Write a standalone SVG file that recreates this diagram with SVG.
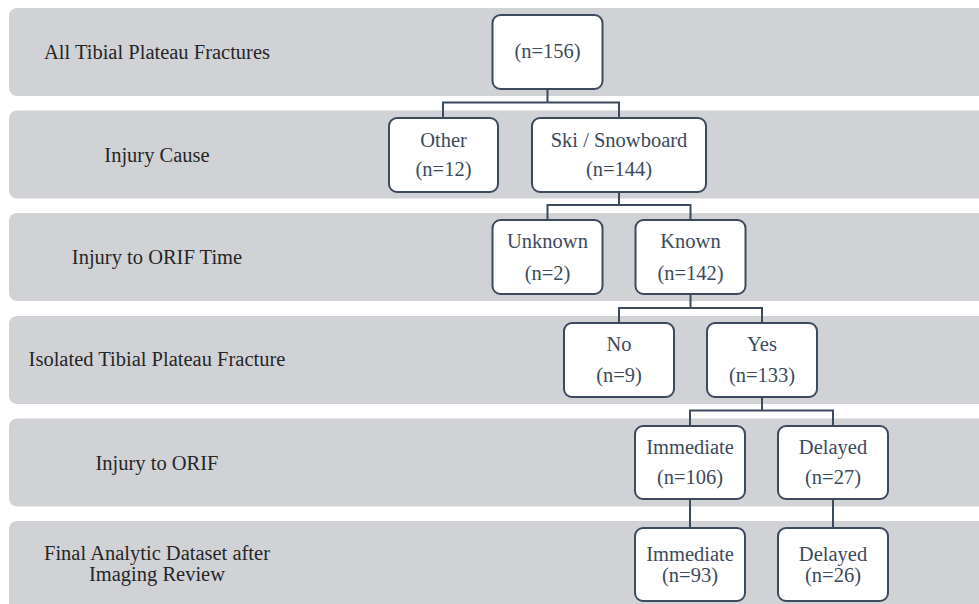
<svg xmlns="http://www.w3.org/2000/svg" width="979" height="604" viewBox="0 0 979 604">
<style>
.band{fill:#d1d2d6}
.box{fill:#ffffff;stroke:#3b4a5d;stroke-width:2}
.lbl{font-family:'Liberation Serif','Times New Roman',Times,'DejaVu Serif',serif;font-size:20.5px;fill:#262626;text-anchor:middle}
.nt{font-family:'Liberation Serif','Times New Roman',Times,'DejaVu Serif',serif;font-size:20.5px;fill:#3b4a5d;text-anchor:middle}
.con{fill:none;stroke:#3b4a5d;stroke-width:2}
</style>
<rect width="979" height="604" fill="#ffffff"/>
<g id="bands">
<rect class="band" x="9" y="8" width="990" height="88" rx="8"/>
<rect class="band" x="9" y="110.5" width="990" height="88" rx="8"/>
<rect class="band" x="9" y="213" width="990" height="88" rx="8"/>
<rect class="band" x="9" y="316" width="990" height="88" rx="8"/>
<rect class="band" x="9" y="418.5" width="990" height="88" rx="8"/>
<rect class="band" x="9" y="521" width="990" height="100" rx="8"/>
</g>
<g id="stage-labels">
<text class="lbl" x="157" y="59">All Tibial Plateau Fractures</text>
<text class="lbl" x="157" y="162">Injury Cause</text>
<text class="lbl" x="157" y="264">Injury to ORIF Time</text>
<text class="lbl" x="157" y="366">Isolated Tibial Plateau Fracture</text>
<text class="lbl" x="157" y="470">Injury to ORIF</text>
<text class="lbl" x="157" y="560">Final Analytic Dataset after</text>
<text class="lbl" x="157" y="581">Imaging Review</text>
</g>
<g id="connectors">
<path class="con" d="M547.5 89 V102.5 M443 117 V102.5 H619 V117"/>
<path class="con" d="M619 192 V205 M547.5 220 V205 H690.5 V220"/>
<path class="con" d="M690.5 294 V308 M619 323 V308 H762 V323"/>
<path class="con" d="M762 397 V410.5 M690 426 V410.5 H833 V426"/>
<path class="con" d="M690 499 V528"/>
<path class="con" d="M833 499 V528"/>
</g>
<g id="n-all">
<rect class="box" x="492.5" y="15" width="110" height="74" rx="8"/>
<text class="nt" x="547.5" y="58">(n=156)</text>
</g>
<g id="n-other">
<rect class="box" x="389" y="118" width="109" height="74" rx="8"/>
<text class="nt" x="443.5" y="147">Other</text>
<text class="nt" x="443.5" y="176">(n=12)</text>
</g>
<g id="n-ski">
<rect class="box" x="532" y="118" width="174" height="74" rx="8"/>
<text class="nt" x="619" y="147">Ski / Snowboard</text>
<text class="nt" x="619" y="176">(n=144)</text>
</g>
<g id="n-unknown">
<rect class="box" x="492.5" y="220" width="110" height="74" rx="8"/>
<text class="nt" x="547.5" y="248">Unknown</text>
<text class="nt" x="547.5" y="280">(n=2)</text>
</g>
<g id="n-known">
<rect class="box" x="635.5" y="220" width="110" height="74" rx="8"/>
<text class="nt" x="690.5" y="248">Known</text>
<text class="nt" x="690.5" y="280">(n=142)</text>
</g>
<g id="n-no">
<rect class="box" x="564" y="323" width="110" height="74" rx="8"/>
<text class="nt" x="619" y="351">No</text>
<text class="nt" x="619" y="382">(n=9)</text>
</g>
<g id="n-yes">
<rect class="box" x="707" y="323" width="110" height="74" rx="8"/>
<text class="nt" x="762" y="351">Yes</text>
<text class="nt" x="762" y="382">(n=133)</text>
</g>
<g id="n-immediate">
<rect class="box" x="635" y="426" width="110" height="73" rx="8"/>
<text class="nt" x="690" y="454">Immediate</text>
<text class="nt" x="690" y="484">(n=106)</text>
</g>
<g id="n-delayed">
<rect class="box" x="778" y="426" width="110" height="73" rx="8"/>
<text class="nt" x="833" y="454">Delayed</text>
<text class="nt" x="833" y="484">(n=27)</text>
</g>
<g id="n-immediate-final">
<rect class="box" x="635" y="528" width="110" height="73" rx="8"/>
<text class="nt" x="690" y="561">Immediate</text>
<text class="nt" x="690" y="582">(n=93)</text>
</g>
<g id="n-delayed-final">
<rect class="box" x="778" y="528" width="110" height="73" rx="8"/>
<text class="nt" x="833" y="561">Delayed</text>
<text class="nt" x="833" y="582">(n=26)</text>
</g>
</svg>
